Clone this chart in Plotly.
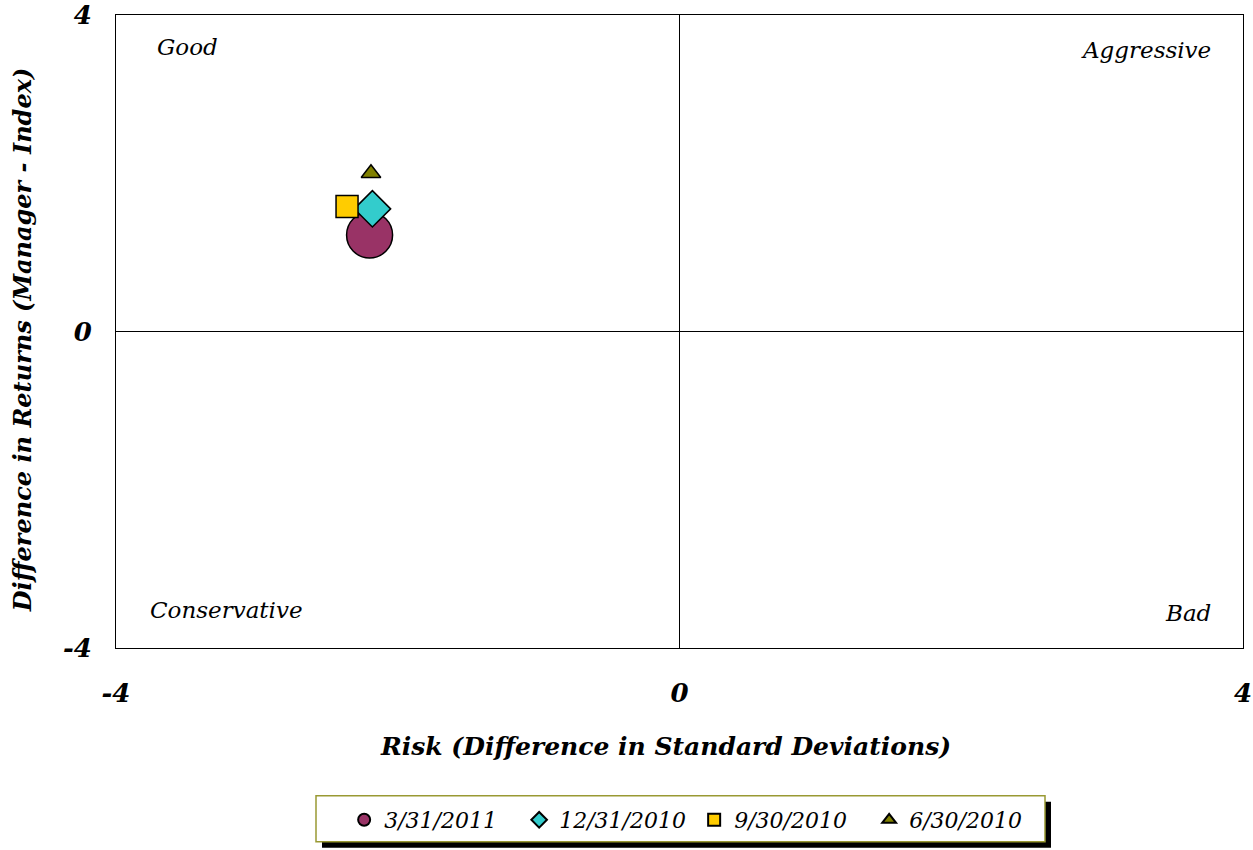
import plotly.graph_objects as go

# Risk / return points per quarter-end
dates = ["3/31/2011", "12/31/2010", "9/30/2010", "6/30/2010"]
risk = [-2.20, -2.18, -2.36, -2.19]
returns = [1.22, 1.55, 1.58, 2.00]
symbols = ["circle", "diamond", "square", "triangle-up"]
colors = ["#993366", "#33CCCC", "#FFCC00", "#808000"]
sizes = [46, 28, 22, 17]

quadrants = ["Good", "Aggressive", "Conservative", "Bad"]
axis_ticks = [-4, 0, 4]

FONT = "DejaVu Serif"

fig = go.Figure()
for i in range(len(dates)):
    fig.add_trace(go.Scatter(
        x=[risk[i]], y=[returns[i]], mode="markers", name=dates[i],
        marker=dict(symbol=symbols[i], color=colors[i], size=sizes[i],
                    line=dict(color="black", width=1.5)),
    ))

axis_common = dict(
    range=[-4, 4], tickvals=axis_ticks, ticktext=[str(v) for v in axis_ticks],
    showgrid=False, zeroline=True, zerolinecolor="black", zerolinewidth=1,
    showline=True, linecolor="black", linewidth=1, mirror=True, automargin=False,
    ticks="", tickfont=dict(family=FONT, size=26, color="black", style="italic", weight="bold"),
    fixedrange=True,
)
fig.update_xaxes(**axis_common, ticklabelstandoff=22)
fig.update_yaxes(**axis_common, ticklabelstandoff=18)

# quadrant captions
annotations = [
    dict(x=-3.72, y=3.6, text=quadrants[0], xanchor="left"),
    dict(x=3.79, y=3.56, text=quadrants[1], xanchor="right"),
    dict(x=-3.77, y=-3.52, text=quadrants[2], xanchor="left"),
    dict(x=3.79, y=-3.56, text=quadrants[3], xanchor="right"),
]
for a in annotations:
    fig.add_annotation(xref="x", yref="y", showarrow=False, yanchor="middle",
                       font=dict(family=FONT, size=23, color="black", style="italic"), **a)

# axis titles
title_font = dict(family=FONT, size=25, color="black", style="italic", weight="bold")
fig.add_annotation(xref="paper", yref="paper", x=0.488, y=-0.155, showarrow=False,
                   text="Risk (Difference in Standard Deviations)", yanchor="middle",
                   font=title_font)
fig.add_annotation(xref="paper", yref="paper", x=-0.083, y=0.487, showarrow=False,
                   text="Difference in Returns (Manager - Index)", textangle=-90,
                   xanchor="center", yanchor="middle",
                   font=dict(title_font, size=24))


# legend frame with drop shadow (plot spans 116..1243 px in x, 15..649 px in y)
def px_x(p):
    return (p - 116) / 1127


def px_y(p):
    return (649 - p) / 634


fig.add_shape(type="rect", xref="paper", yref="paper", layer="above",
              x0=px_x(322), x1=px_x(1051), y0=px_y(803), y1=px_y(849),
              fillcolor="black", line=dict(width=0))
fig.add_shape(type="rect", xref="paper", yref="paper", layer="above",
              x0=px_x(316), x1=px_x(1045), y0=px_y(797), y1=px_y(843),
              fillcolor="white", line=dict(color="#999933", width=1.5))

fig.update_layout(
    width=1253, height=850,
    margin=dict(l=116, r=10, t=15, b=201),
    plot_bgcolor="white", paper_bgcolor="white",
    showlegend=True,
    legend=dict(orientation="h", x=0.513, y=px_y(820), xanchor="center", yanchor="middle",
                bgcolor="rgba(0,0,0,0)", borderwidth=0, itemsizing="constant",
                font=dict(family=FONT, size=22, color="black", style="italic"),
                itemwidth=30, tracegroupgap=0, entrywidth=130),
)

fig.write_html("out.html")
